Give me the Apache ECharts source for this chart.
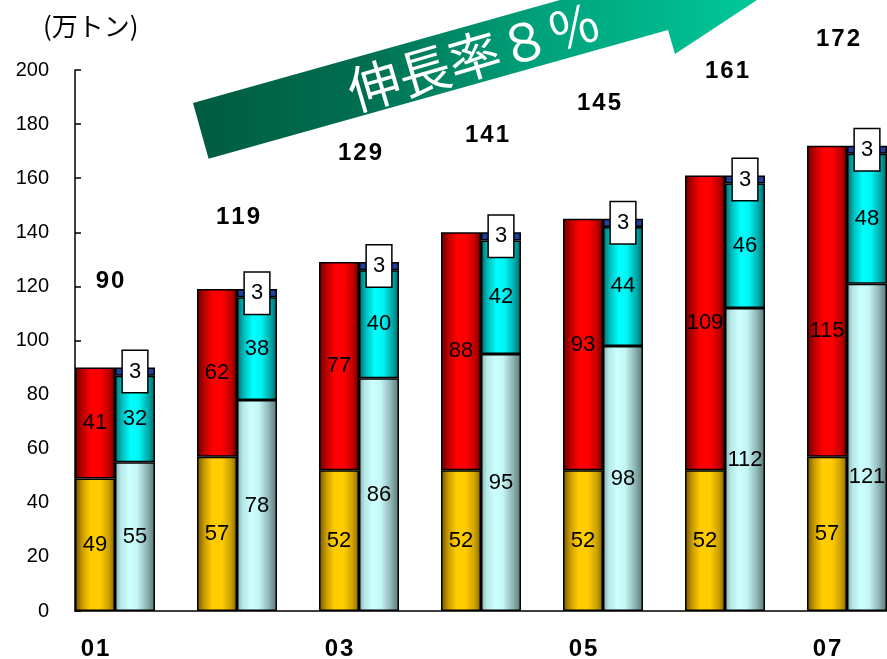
<!DOCTYPE html>
<html>
<head>
<meta charset="utf-8">
<style>
  html, body { margin: 0; padding: 0; background: #fff; overflow: hidden; }
  #chart { width: 930px; height: 659px; }
</style>
<script src="https://cdn.jsdelivr.net/npm/echarts@6/dist/echarts.min.js"></script>
</head>
<body>
<div id="chart"></div>
<script>
// Fiscal years on the category axis
const years = ['01', '02', '03', '04', '05', '06', '07'];
// Left column of each year: yellow base + red top (万トン)
const leftBase = [49, 57, 52, 52, 52, 52, 57];
const leftTop = [41, 62, 77, 88, 93, 109, 115];
// Right column of each year: pale base + cyan middle + navy cap (万トン)
const rightBase = [55, 78, 86, 95, 98, 112, 121];
const rightMid = [32, 38, 40, 42, 44, 46, 48];
const rightCap = [3, 3, 3, 3, 3, 3, 3];
// Yearly totals written above each pair
const totals = [90, 119, 129, 141, 145, 161, 172];
// Value axis range / step
const yMin = 0, yMax = 200, yStep = 20;

// Label placement tweaks for the totals: [dx, rise above the column top in px]
const totalLabelShift = [[-5, 86], [1, 72], [1, 109], [6, 94], [-4, 115], [2, 104], [-9, 106]];
// Extra downward nudge for a few in-bar labels (by year index)
const leftTopLabelDrop = { 6: 30 };
const rightBaseLabelDrop = { 6: 30 };

// Pick the narrowest installed sans face for the digit labels
function pickNarrow(weight) {
  const ctx = document.createElement('canvas').getContext('2d');
  const sample = '0123456789';
  const cands = [
    { fontStyle: 'normal', fontFamily: "'Liberation Sans Narrow'" },
    { fontStyle: 'normal', fontFamily: "'Arial Narrow'" },
    { fontStyle: 'condensed', fontFamily: "'DejaVu Sans'" },
    { fontStyle: 'normal', fontFamily: "'DejaVu Sans Condensed'" }
  ];
  let best = { fontStyle: 'normal', fontFamily: "'Liberation Sans'" };
  ctx.font = `normal ${weight} 100px 'Liberation Sans'`;
  let bestW = ctx.measureText(sample).width;
  ctx.font = `normal ${weight} 100px monospace`;
  const monoW = ctx.measureText(sample).width;
  for (const c of cands) {
    ctx.font = `${c.fontStyle} ${weight} 100px ${c.fontFamily}, monospace`;
    const w = ctx.measureText(sample).width;
    if (Math.abs(w - monoW) > 0.5 && w < bestW - 0.5) { best = c; bestW = w; }
  }
  best.narrow = bestW / 1000 < 0.5;
  return best;
}
const narrowReg = pickNarrow('normal');
const narrowBold = pickNarrow('bold');
// digit gap: thin space for narrow faces, hair space for the bold figures otherwise
const spaced = (s, f, loose) => String(s).split('')
  .join(f.narrow ? '\u2009' : (loose ? '\u200A' : ''));

const CJK = "'Noto Sans CJK JP','Noto Sans CJK SC',sans-serif";
const hGrad = stops => new echarts.graphic.LinearGradient(0, 0, 1, 0,
  stops.map(([o, c]) => ({ offset: o, color: c })));

const border = { borderColor: '#000', borderWidth: 1.5 };
const segLabel = {
  show: true, position: 'inside', color: '#000', fontSize: 22,
  fontStyle: narrowReg.fontStyle, fontFamily: narrowReg.fontFamily,
  formatter: p => spaced(p.value, narrowReg, false)
};
const withDrop = (vals, drops) => vals.map((v, i) =>
  drops[i] ? { value: v, label: { offset: [0, drops[i]] } } : v);

const chart = echarts.init(document.getElementById('chart'), null, { renderer: 'canvas' });

const option = {
  animation: false,
  backgroundColor: '#fff',
  title: {
    text: '(万トン)', left: 38, top: 8,
    textStyle: { fontSize: 26, fontWeight: 'normal', fontFamily: CJK, color: '#000' }
  },
  grid: [
    { left: 54, top: 70, width: 854, height: 541, outerBoundsMode: 'none' },
    { left: 75, top: 70, width: 833, height: 541, outerBoundsMode: 'none' }
  ],
  xAxis: [
    {
      type: 'category', gridIndex: 0, data: years,
      axisLine: { show: false }, axisTick: { show: false },
      axisLabel: {
        interval: 1, margin: 26, padding: [0, 40, 0, 0],
        fontSize: 24, fontWeight: 'bold', color: '#000',
        fontStyle: narrowBold.fontStyle, fontFamily: narrowBold.fontFamily,
        formatter: v => spaced(v, narrowBold, true)
      }
    },
    { type: 'category', gridIndex: 0, data: years, show: false },
    {
      type: 'value', gridIndex: 1, min: 0, max: 1,
      axisLine: { show: true, lineStyle: { color: '#000', width: 1.5 } },
      axisTick: { show: false }, axisLabel: { show: false }, splitLine: { show: false }
    }
  ],
  yAxis: [
    { type: 'value', gridIndex: 0, min: yMin, max: yMax, show: false },
    {
      type: 'value', gridIndex: 1, min: yMin, max: yMax, interval: yStep,
      axisLine: { show: true, lineStyle: { color: '#000', width: 1.5 } },
      axisTick: { show: true, inside: true, length: 6, lineStyle: { color: '#000', width: 1.5 } },
      axisLabel: {
        margin: 26, fontSize: 20, color: '#000',
        fontStyle: narrowReg.fontStyle, fontFamily: narrowReg.fontFamily,
        formatter: v => spaced(v, narrowReg, false)
      },
      splitLine: { show: false }
    }
  ],
  series: [
    {
      type: 'bar', name: 'left-base', stack: 'L', xAxisIndex: 0, yAxisIndex: 0,
      barWidth: 40, barGap: '0%', data: leftBase,
      itemStyle: Object.assign({ color: hGrad([[0, '#6e5200'], [0.18, '#c89a00'], [0.38, '#ffcc00'], [0.62, '#ffcc00'], [0.85, '#caa000'], [1, '#806400']]) }, border),
      label: segLabel
    },
    {
      type: 'bar', name: 'left-top', stack: 'L', xAxisIndex: 0, yAxisIndex: 0,
      barWidth: 40, barGap: '0%', data: withDrop(leftTop, leftTopLabelDrop),
      itemStyle: Object.assign({ color: hGrad([[0, '#6a0000'], [0.2, '#c00000'], [0.4, '#ff0000'], [0.62, '#ff0000'], [0.85, '#c00000'], [1, '#700000']]) }, border),
      label: segLabel
    },
    {
      type: 'bar', name: 'right-base', stack: 'R', xAxisIndex: 0, yAxisIndex: 0,
      barWidth: 40, barGap: '0%', data: withDrop(rightBase, rightBaseLabelDrop),
      itemStyle: Object.assign({ color: hGrad([[0, '#8ab0b0'], [0.15, '#b8e8e8'], [0.35, '#ccffff'], [0.55, '#c4f6f6'], [0.8, '#8fb4b4'], [1, '#557777']]) }, border),
      label: segLabel
    },
    {
      type: 'bar', name: 'right-mid', stack: 'R', xAxisIndex: 0, yAxisIndex: 0,
      barWidth: 40, barGap: '0%', data: rightMid,
      itemStyle: Object.assign({ color: hGrad([[0, '#006a6a'], [0.18, '#00c0c0'], [0.4, '#00ffff'], [0.6, '#00f4f4'], [0.85, '#00a4a4'], [1, '#006666']]) }, border),
      label: segLabel
    },
    {
      type: 'bar', name: 'right-cap', stack: 'R', xAxisIndex: 0, yAxisIndex: 0,
      barWidth: 40, barGap: '0%', data: rightCap,
      itemStyle: Object.assign({ color: '#213f9c' }, border),
      label: {
        show: true, position: 'inside', color: '#000', fontSize: 22,
        fontFamily: "'Liberation Sans',Arial,sans-serif",
        backgroundColor: '#fff', borderColor: '#000', borderWidth: 1.5,
        padding: [10, 6, 9, 6], formatter: p => String(p.value)
      }
    },
    {
      type: 'bar', name: 'total', xAxisIndex: 1, yAxisIndex: 0, silent: true,
      barWidth: 80,
      itemStyle: { color: 'rgba(0,0,0,0)' },
      data: totals.map((v, i) => ({
        value: v,
        label: { offset: [totalLabelShift[i][0], -(totalLabelShift[i][1] - 12)] }
      })),
      label: {
        show: true, position: 'top', distance: 0, lineHeight: 24,
        fontSize: 24, fontWeight: 'bold', color: '#000',
        fontStyle: narrowBold.fontStyle, fontFamily: narrowBold.fontFamily,
        formatter: p => spaced(p.value, narrowBold, true)
      }
    }
  ],
  graphic: [
    {
      type: 'polygon', z: 1, silent: true,
      shape: { points: [[193, 103], [560, 0], [757, 0], [675, 54], [668, 30], [208.6, 158.7]] },
      style: {
        fill: new echarts.graphic.LinearGradient(193, 0, 757, 0, [
          { offset: 0, color: '#005c40' },
          { offset: 0.3, color: '#006e50' },
          { offset: 0.6, color: '#00a07a' },
          { offset: 1, color: '#00c898' }
        ], true)
      }
    },
    {
      type: 'text', z: 2, silent: true,
      x: 474, y: 56, rotation: 0.285,
      style: {
        text: '伸長率８％', fill: '#fff', fontSize: 52, fontWeight: 'normal',
        fontFamily: CJK, align: 'center', verticalAlign: 'middle'
      }
    }
  ]
};

chart.setOption(option);
</script>
</body>
</html>
